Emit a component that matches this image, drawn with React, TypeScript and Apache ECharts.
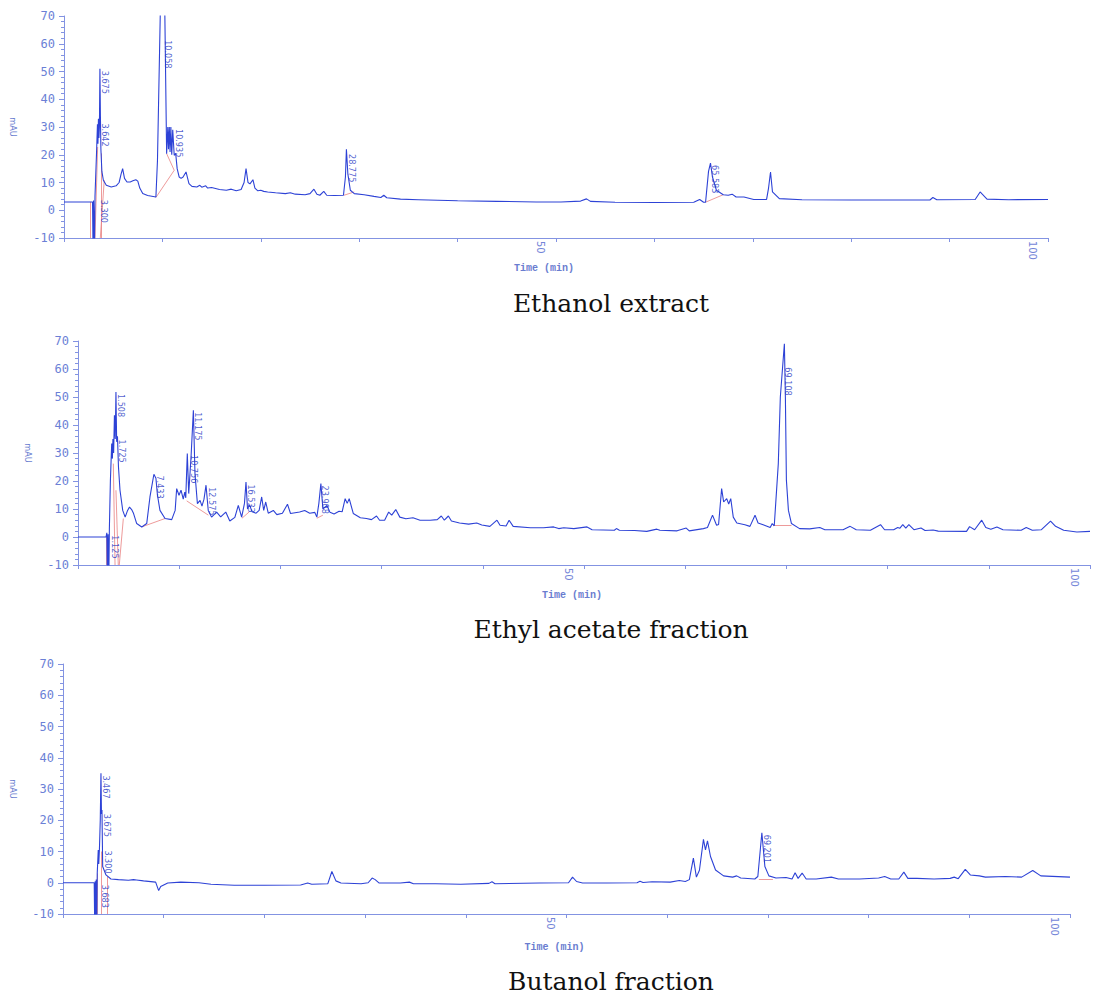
import React, { useEffect, useRef } from 'react';
import * as echarts from 'echarts';

// ---------- DATA ----------
const panelTitles = ['Ethanol extract', 'Ethyl acetate fraction', 'Butanol fraction'];
const timeLabels = [50, 100];

const ethanolTrace: number[][] = [
  [0, 3.0], [2.9, 3.0], [2.95, -14], [3.0, 3.5], [3.1, -14], [3.15, 5], [3.3, 20], [3.4, 31], [3.45, 24], [3.5, 33],
  [3.55, 26], [3.6, 30], [3.65, 51], [3.7, 34], [3.75, 22], [3.85, 14], [4.0, 10.8], [4.3, 9.0], [4.8, 8.4], [5.3, 8.8],
  [5.6, 10], [5.8, 13], [5.96, 15.0], [6.15, 11.5], [6.4, 10.2], [6.73, 10.2], [7.0, 10.6], [7.3, 11.0], [7.5, 10.5],
  [7.7, 8.0], [8.0, 6.0], [8.5, 5.3], [9.34, 4.8], [9.5, 18], [9.78, 70], [10.0, 110], [10.25, 70], [10.43, 20.4],
  [10.55, 30], [10.62, 22], [10.7, 30], [10.78, 21], [10.86, 30], [10.95, 20], [11.05, 29], [11.2, 19.8], [11.35, 20.5],
  [11.5, 15], [11.7, 12], [11.9, 11.5], [12.1, 12], [12.4, 13.8], [12.7, 9.6], [13.0, 8.6], [13.5, 8.4], [13.8, 9.0],
  [14.0, 8.3], [14.4, 8.8], [14.6, 8.0], [15.0, 8.2], [15.8, 7.5], [16.5, 7.2], [17.0, 7.6], [17.5, 7.0], [18.0, 7.5],
  [18.3, 10], [18.5, 15.0], [18.7, 10], [18.9, 9.5], [19.2, 11.0], [19.4, 8], [19.7, 7.0], [20.0, 7.2], [20.3, 6.8],
  [20.7, 6.6], [21.5, 6.3], [22.5, 6.0], [23.0, 6.3], [23.5, 5.8], [24.5, 5.6], [25.0, 6.0], [25.4, 7.6], [25.7, 5.8],
  [26.0, 5.4], [26.4, 6.8], [26.7, 5.4], [27.5, 5.3], [28.4, 5.4], [28.6, 12], [28.7, 22.0], [28.85, 13], [29.1, 7.2],
  [29.5, 6.0], [30.5, 5.6], [31.5, 5.0], [32.2, 4.6], [32.5, 5.4], [32.8, 4.5], [34.2, 4.0], [36, 3.8], [40, 3.4],
  [44, 3.2], [48, 3.0], [50.5, 3.0], [52.5, 3.3], [53.1, 4.1], [53.5, 3.2], [56, 2.9], [60, 2.8], [64, 2.9], [64.6, 3.9],
  [65.0, 2.9], [65.2, 2.9], [65.5, 14], [65.7, 17.0], [65.9, 12], [66.3, 7.2], [67.0, 5.6], [67.5, 5.4], [67.9, 5.8],
  [68.3, 4.8], [69.1, 4.8], [70.1, 3.9], [71.4, 3.9], [71.6, 8], [71.8, 13.8], [72.0, 6.6], [72.7, 4.2], [75, 3.8],
  [80, 3.7], [85, 3.7], [88.0, 3.7], [88.3, 4.6], [88.7, 3.8], [92.6, 3.9], [93.1, 6.6], [93.8, 4.0], [96, 3.8], [100, 3.9]
];

const ethylTrace: number[][] = [
  [0, 0], [2.77, 0], [2.85, 1.5], [2.9, -14], [2.97, 1], [3.05, -14], [3.1, 3], [3.2, 20], [3.33, 33.4], [3.4, 28],
  [3.45, 35], [3.52, 30], [3.6, 43.5], [3.68, 35], [3.75, 51.8], [3.82, 34], [3.9, 36], [4.0, 25], [4.15, 16.7],
  [4.42, 9.5], [4.66, 7.1], [4.9, 9.5], [5.09, 10.7], [5.3, 9.8], [5.47, 8.6], [5.8, 4.8], [6.3, 3.6], [6.79, 4.8],
  [7.11, 14.3], [7.5, 22.4], [7.7, 21], [7.85, 15], [8.1, 9.5], [8.6, 6.6], [9.26, 6.2], [9.6, 9.5], [9.75, 17.3],
  [9.98, 14.9], [10.18, 16.7], [10.4, 13.5], [10.55, 16], [10.65, 14], [10.8, 29.8], [10.94, 15.5], [11.17, 28.6],
  [11.4, 45.3], [11.56, 22.6], [11.8, 11.9], [12.06, 13.1], [12.25, 11], [12.45, 13.5], [12.65, 18.5], [12.87, 9.5],
  [13.2, 7.1], [13.7, 8.9], [14.1, 7.2], [14.6, 8.9], [15.0, 5.7], [15.5, 7], [15.84, 11.3], [16.17, 7.1], [16.45, 12],
  [16.6, 19.6], [16.75, 10], [16.95, 11.5], [17.2, 9], [17.6, 8.5], [17.9, 9.5], [18.15, 14.3], [18.35, 9.5],
  [18.55, 12.5], [18.8, 8.5], [19.3, 9.5], [19.65, 8], [20.2, 8.5], [20.7, 11.7], [21.0, 8.4], [21.9, 8.9], [22.4, 9.5],
  [22.9, 8.5], [23.4, 8.8], [23.6, 7.1], [23.8, 12], [24.0, 19.1], [24.2, 10], [24.6, 11.3], [24.9, 8.8], [25.3, 8.2],
  [25.8, 9.2], [26.1, 9], [26.4, 13.7], [26.6, 12], [26.8, 13.7], [27.2, 8.4], [27.9, 6.9], [28.5, 6.6], [29.0, 6.2],
  [29.5, 7.5], [29.8, 6.0], [30.3, 6.0], [30.7, 8.9], [31.0, 7.8], [31.4, 9.8], [31.8, 7.1], [32.4, 6.5], [33.1, 6.9],
  [33.8, 6.0], [34.8, 6.0], [35.5, 6.2], [35.9, 7.5], [36.2, 6.0], [36.6, 7.5], [36.9, 5.7], [37.7, 5.0], [38.6, 4.6],
  [39.4, 5.0], [39.9, 4.3], [40.7, 3.8], [41.4, 6.0], [41.7, 4.2], [42.3, 3.9], [42.6, 6.0], [43.0, 3.8], [44.7, 3.3],
  [46.0, 3.3], [47.0, 3.6], [47.5, 3.0], [48.0, 3.3], [49, 3.0], [50.3, 3.6], [50.8, 2.6], [53.0, 2.4], [53.2, 3.0],
  [53.5, 2.4], [55, 2.3], [56.2, 2.0], [57.2, 2.8], [57.5, 2.4], [59.2, 2.2], [60.1, 3.2], [60.4, 2.2], [61.8, 3.0],
  [62.2, 3.4], [62.7, 7.8], [63.1, 4.2], [63.3, 4.5], [63.6, 17.3], [63.8, 12.5], [64.1, 13.7], [64.3, 11.8],
  [64.5, 13.7], [64.75, 7.1], [65.1, 5.0], [65.9, 4.4], [66.4, 3.8], [66.9, 7.8], [67.2, 5.0], [67.7, 4.4], [68.4, 3.4],
  [68.6, 4.8], [68.8, 4.0], [69.2, 26.2], [69.4, 50], [69.8, 69], [69.9, 50], [70.0, 20.3], [70.2, 9.5], [70.5, 4.8],
  [71.3, 3.0], [72.3, 2.9], [73.3, 3.4], [73.8, 2.6], [75.6, 2.6], [76.3, 3.8], [76.9, 2.6], [78.3, 2.4], [79.3, 4.4],
  [79.7, 2.6], [80.6, 2.6], [81.0, 3.4], [81.2, 3.1], [81.5, 4.4], [81.8, 3.2], [82.1, 4.4], [82.6, 2.6], [83.3, 3.2],
  [83.7, 2.3], [84.5, 2.5], [85.0, 2.1], [87.8, 2.0], [88.1, 3.7], [88.6, 2.6], [89.3, 6.0], [89.7, 3.4], [90.2, 2.8],
  [90.8, 3.6], [91.4, 2.6], [93.2, 2.4], [93.7, 3.4], [94.3, 2.4], [95.2, 2.6], [96.1, 5.7], [96.6, 3.8], [97.4, 2.4],
  [98.7, 1.8], [100, 2.0]
];

const butanolTrace: number[][] = [
  [0, 0], [3.1, 0], [3.15, -14], [3.2, 0.5], [3.25, -14], [3.3, 1], [3.35, -14], [3.4, 3], [3.5, 10.5], [3.55, 6],
  [3.62, 11], [3.7, 20], [3.77, 35], [3.82, 22], [3.87, 23.3], [3.94, 5.2], [4.27, 2.5], [4.76, 1.2], [5.5, 1.0],
  [6.5, 0.8], [7.0, 1.0], [7.3, 0.9], [8.0, 0.6], [9.2, 0.2], [9.5, -2.5], [9.7, -1.2], [10.4, -0.1], [11.7, 0.2],
  [13.5, 0], [14.7, -0.5], [17, -0.8], [20, -0.8], [23.6, -0.7], [24.3, -0.1], [24.7, -0.5], [26.3, -0.3], [26.7, 3.6],
  [27.1, 0.6], [27.6, -0.1], [29.6, -0.3], [30.3, 0], [30.7, 1.5], [31.0, 1.0], [31.4, -0.1], [33.5, -0.1], [34.4, 0.2],
  [34.8, -0.3], [37, -0.3], [39.5, -0.5], [42.3, -0.2], [42.6, 0.3], [42.9, -0.3], [47.3, -0.1], [50.2, 0], [50.6, 1.8],
  [51.0, 0.4], [51.6, -0.1], [54, -0.1], [57.0, 0], [57.3, 0.5], [57.6, 0.1], [58.5, 0.3], [60.3, 0.2], [61.2, 0.7],
  [61.8, 0.4], [62.2, 1.0], [62.6, 7.9], [62.9, 1.8], [63.2, 4], [63.6, 13.9], [63.8, 10.5], [64.0, 13.4], [64.3, 8.4],
  [64.8, 4.1], [65.6, 2.2], [66.5, 1.8], [66.9, 2.2], [67.3, 1.5], [68.7, 1.2], [69.0, 2], [69.4, 16], [69.7, 5.2],
  [70.1, 2.2], [70.8, 1.5], [71.8, 1.7], [72.4, 1.2], [72.7, 3.2], [73.0, 1.4], [73.4, 3.1], [73.8, 1.2], [74.8, 1.2],
  [76.3, 1.8], [77.0, 1.2], [79.1, 1.2], [81.0, 1.5], [81.6, 2.0], [82.2, 1.2], [83.0, 1.2], [83.5, 3.4], [83.9, 1.4],
  [84.8, 1.4], [86.5, 1.2], [88.1, 1.4], [88.5, 1.8], [88.9, 1.3], [89.6, 4.3], [90.1, 2.5], [91.0, 2.2], [91.6, 1.8],
  [93.6, 2.0], [95.2, 1.8], [96.3, 3.9], [97.1, 2.2], [100, 1.8]
];

// integration baselines (red) : [[t1, v1], [t2, v2]]
const ethanolBaselines: number[][][] = [
  [[2.67, 3], [2.67, -10]], [[3.42, 22.8], [3.15, -10]], [[3.76, 20.5], [3.76, -10]], [[4.09, 10.8], [3.69, -10]],
  [[9.34, 4.6], [11.2, 14.4]], [[10.43, 20.4], [11.2, 14.4]], [[28.45, 5.4], [29.5, 6.6]], [[65.2, 2.9], [67.0, 5.6]]
];
const ethylBaselines: number[][][] = [
  [[2.77, 0], [2.77, -10]], [[3.49, 26.2], [3.66, -10]], [[3.75, 16.7], [3.98, -10]], [[4.48, 6.6], [4.08, -10]],
  [[6.3, 3.6], [8.6, 6.6]], [[10.74, 12.9], [12.88, 7.8]], [[16.2, 6.7], [16.9, 8.9]], [[23.6, 6.7], [24.2, 7.8]],
  [[68.7, 4.2], [70.5, 4.2]]
];
const butanolBaselines: number[][][] = [
  [[3.44, 3], [3.44, -10]], [[3.77, 10], [3.77, -10]], [[4.37, 2], [4.37, -10]], [[69.1, 1.0], [70.5, 1.0]]
];

// peak labels : [retention, height, text]
const ethanolPeaks: (number | string)[][] = [
  [3.65, 51, '3.675'], [3.7, 32, '3.642'], [3.6, 4.5, '3.300'], [10.1, 62, '10.058'], [11.2, 30, '10.935'],
  [28.75, 21, '28.775'], [65.7, 17, '65.583']
];
const ethylPeaks: (number | string)[][] = [
  [3.75, 51.8, '1.508'], [3.9, 35.5, '1.725'], [3.2, 1.3, '1.125'], [7.6, 22.7, '7.433'], [11.0, 30, '10.756'],
  [11.4, 45.3, '11.175'], [12.7, 18.5, '12.575'], [16.6, 19.5, '16.533'], [23.95, 19.1, '23.908'],
  [69.7, 61.3, '69.108']
];
const butanolPeaks: (number | string)[][] = [
  [3.77, 35, '3.467'], [3.87, 22.7, '3.675'], [3.94, 11, '3.300'], [3.7, 0, '3.683'], [69.4, 16, '69.201']
];

// ---------- LAYOUT / STYLE ----------
const AXIS_COLOR = '#8393e2';
const TRACE_COLOR = '#2d42d6';
const LABEL_COLOR = '#2536c4';
const RED = '#e88080';

const grids = [
  { left: 63, top: 16, width: 985, height: 222 },
  { left: 78, top: 341, width: 1012, height: 224 },
  { left: 62, top: 664, width: 1008, height: 250 }
];
const titleY = [303, 629, 981];
const nameGaps = [47, 46, 46];
const xNameGaps = [25, 25, 28];

export default function App() {
  const ref = useRef<HTMLDivElement>(null);
  useEffect(() => {
    if (!ref.current) return;
    const chart = echarts.init(ref.current, undefined, { renderer: 'svg' });
    const traces = [ethanolTrace, ethylTrace, butanolTrace];
    const baselines = [ethanolBaselines, ethylBaselines, butanolBaselines];
    const peaks = [ethanolPeaks, ethylPeaks, butanolPeaks];

    const xAxis = grids.map((_, i) => ({
      type: 'value',
      gridIndex: i,
      min: 0,
      max: 100,
      interval: 10,
      name: 'Time (min)',
      nameLocation: 'middle',
      nameGap: xNameGaps[i],
      nameTextStyle: { color: '#6a7dd0', fontSize: 10, fontFamily: "'Liberation Mono', monospace", fontWeight: 'bold', padding: [0, 24, 0, 0] },
      axisLine: { show: true, onZero: false, lineStyle: { color: AXIS_COLOR, width: 1 } },
      axisTick: { show: true, length: 4, lineStyle: { color: AXIS_COLOR } },
      splitLine: { show: false },
      axisLabel: {
        show: true,
        rotate: -90,
        margin: 3,
        color: '#7385d8',
        fontSize: 11,
        fontFamily: "'DejaVu Sans Condensed', 'Liberation Sans Narrow', sans-serif",
        verticalAlign: 'top',
        lineHeight: 32,
        formatter: (v: number) => (timeLabels.indexOf(v) >= 0 ? String(v) : '')
      }
    }));

    const yAxis = grids.map((_, i) => ({
      type: 'value',
      gridIndex: i,
      min: -10,
      max: 70,
      interval: 10,
      name: 'mAU',
      nameLocation: 'middle',
      nameGap: nameGaps[i],
      nameRotate: -90,
      nameTextStyle: { color: '#6a7dd0', fontSize: 9, fontFamily: "'DejaVu Sans Condensed', sans-serif" },
      axisLine: { show: true, onZero: false, lineStyle: { color: AXIS_COLOR, width: 1 } },
      axisTick: { show: true, length: 5, lineStyle: { color: AXIS_COLOR } },
      minorTick: { show: true, splitNumber: 5, length: 3, lineStyle: { color: AXIS_COLOR } },
      splitLine: { show: false },
      minorSplitLine: { show: false },
      axisLabel: {
        color: '#6b7fd6',
        fontSize: 12,
        margin: 9,
        fontFamily: "'DejaVu Sans Mono', monospace"
      }
    }));

    const series: any[] = [];
    traces.forEach((tr, i) => {
      series.push({
        type: 'line',
        xAxisIndex: i,
        yAxisIndex: i,
        data: tr,
        showSymbol: false,
        symbol: 'none',
        clip: true,
        z: 3,
        lineStyle: { color: TRACE_COLOR, width: 1.1 }
      });
      series.push({
        type: 'lines',
        coordinateSystem: 'cartesian2d',
        xAxisIndex: i,
        yAxisIndex: i,
        z: 2,
        lineStyle: { color: RED, width: 0.8, opacity: 1 },
        data: baselines[i].map((seg) => ({ coords: seg }))
      });
      series.push({
        type: 'scatter',
        xAxisIndex: i,
        yAxisIndex: i,
        symbol: 'circle',
        symbolSize: 1,
        itemStyle: { color: 'rgba(0,0,0,0)' },
        z: 4,
        data: peaks[i],
        label: {
          show: true,
          position: 'inside',
          rotate: -90,
          align: 'left',
          verticalAlign: 'middle',
          offset: [2, -5],
          color: LABEL_COLOR,
          fontSize: 9,
          fontFamily: "'Liberation Sans Narrow', 'DejaVu Sans Condensed', sans-serif",
          formatter: (p: any) => p.data[2]
        }
      });
    });

    chart.setOption({
      animation: false,
      backgroundColor: '#ffffff',
      grid: grids,
      xAxis,
      yAxis,
      series,
      graphic: panelTitles.map((t, i) => ({
        type: 'text',
        x: 611,
        y: titleY[i],
        style: {
          text: t,
          fill: '#111111',
          fontSize: 25,
          fontFamily: "'DejaVu Serif', 'Liberation Serif', serif",
          align: 'center',
          verticalAlign: 'middle'
        }
      }))
    });
    return () => chart.dispose();
  }, []);
  return (
    <div
      ref={ref}
      style={{ position: 'absolute', left: 0, top: 0, width: 1120, height: 996, background: '#fff' }}
    />
  );
}
